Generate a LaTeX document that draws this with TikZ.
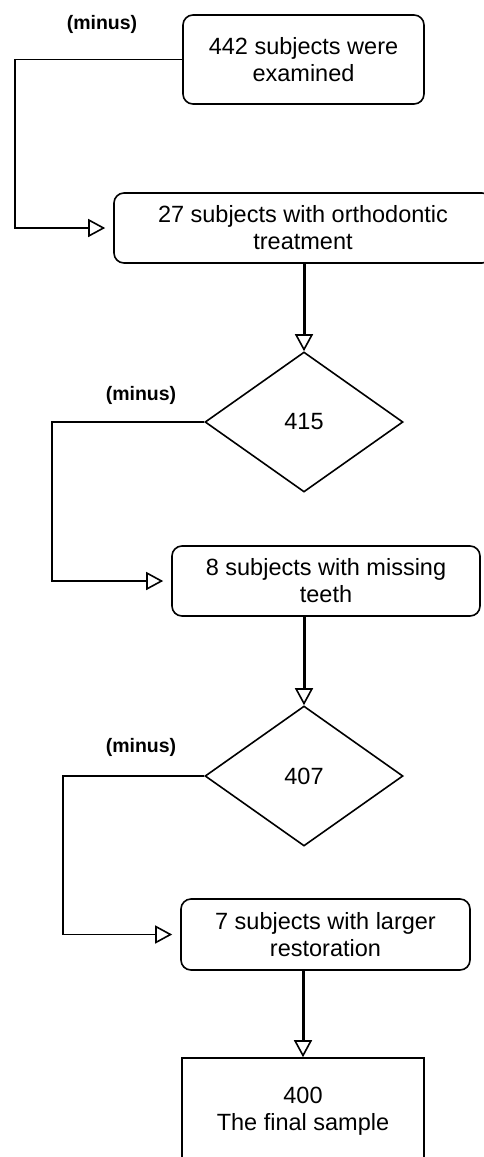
\documentclass[tikz,border=0pt]{standalone}
\usepackage{fontspec}
\setmainfont{Liberation Sans}
\usetikzlibrary{shapes.geometric,arrows.meta}
\begin{document}
\begin{tikzpicture}[x=1pt,y=-1pt,
  txt/.style={font=\fontsize{23.5}{27}\selectfont},
  rbox/.style={draw, line width=1.6pt, rounded corners=10pt, align=center, inner sep=0pt, txt},
  sbox/.style={draw, line width=1.6pt, align=center, inner sep=0pt, txt},
  dia/.style={draw, diamond, line width=1.6pt, minimum width=198pt, minimum height=140pt, inner sep=0pt, txt},
  lbl/.style={font=\bfseries\fontsize{19.5}{23}\selectfont},
  side/.style={line width=1.6pt, -{Triangle[open,length=17pt,width=18pt,line width=1.6pt]}, shorten >=8pt},
  down/.style={line width=3pt, -{Triangle[open,length=17pt,width=18pt,line width=1.6pt]}},
]
\fill[white] (0,0) rectangle (483,1157);
\useasboundingbox (0,0) rectangle (483,1157);

\node[rbox, minimum width=241pt, minimum height=89pt] (b1) at (303.5,59.5) {442 subjects were\\examined};
\node[rbox, minimum width=378pt, minimum height=70pt] (b2) at (303,228) {27 subjects with orthodontic\\treatment};
\node[dia] (d1) at (304,422) {415};
\node[rbox, minimum width=308pt, minimum height=70pt] (b3) at (326,581) {8 subjects with missing\\teeth};
\node[dia] (d2) at (304,776) {407};
\node[rbox, minimum width=289pt, minimum height=71pt] (b4) at (325.5,934.5) {7 subjects with larger\\restoration};
\node[sbox, minimum width=242pt, minimum height=106pt] (b5) at (303,1111) {400\\The final sample};

\node[lbl] (m1) at (102,24) {(minus)};
\node[lbl] (m2) at (141,395) {(minus)};
\node[lbl] (m3) at (141,747) {(minus)};

\coordinate (x1) at (15,0);
\coordinate (x2) at (52,0);
\coordinate (x3) at (63,0);

\draw[side] (b1.west) -- (b1.west -| x1) |- (b2.west);
\draw[side] (d1.west) -- (d1.west -| x2) |- (b3.west);
\draw[side] (d2.west) -- (d2.west -| x3) |- (b4.west);

\draw[down] (b2.south -| d1.north) -- (d1.north);
\draw[down] (b3.south -| d2.north) -- (d2.north);
\draw[down] (b4.south -| b5.north) -- (b5.north);
\end{tikzpicture}
\end{document}
